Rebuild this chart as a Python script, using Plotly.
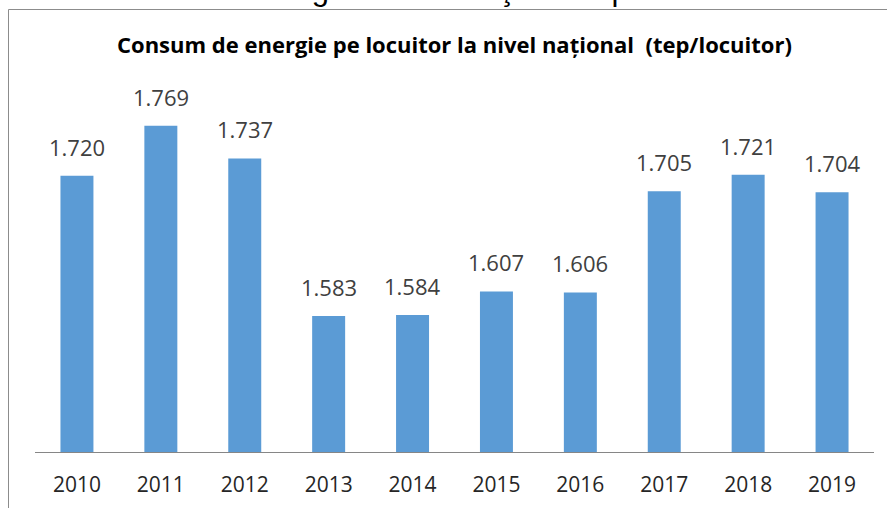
import plotly.graph_objects as go

# Consum de energie pe locuitor (tep/locuitor), 2010-2019
years = ["2010", "2011", "2012", "2013", "2014", "2015", "2016", "2017", "2018", "2019"]
consum = [1.720, 1.769, 1.737, 1.583, 1.584, 1.607, 1.606, 1.705, 1.721, 1.704]

chart_title = "Consum de energie pe locuitor la nivel național  (tep/locuitor)"
caption = "7.6. Consumul de energie la nivel naţional raportat la numărul de locuitori"

W, H = 887, 508


def px(x):
    return x / W


def py(y):
    return 1 - y / H


fig = go.Figure(go.Bar(
    x=years,
    y=consum,
    marker=dict(color="#5B9BD5", line=dict(width=0)),
    hoverinfo="x+y",
))

# data labels above the bars
for i, v in enumerate(consum):
    fig.add_annotation(
        x=i, y=v, xref="x", yref="y",
        text=f"{v:.3f}", showarrow=False,
        yanchor="bottom", yshift=12,
        font=dict(family="Open Sans", size=22, color="#404040"),
    )

# chart title
fig.add_annotation(
    x=px(454), y=py(44), xref="paper", yref="paper",
    text=f"<b>{chart_title}</b>", showarrow=False,
    xanchor="center", yanchor="middle",
    font=dict(family="Open Sans", size=22, color="#000000"),
)

# caption of the page above the chart, cut off by the crop
fig.add_annotation(
    x=px(-4), y=py(9.5), xref="paper", yref="paper",
    text=caption, showarrow=False,
    xanchor="left", yanchor="bottom",
    font=dict(family="Liberation Sans", size=31, color="#000000"),
)

# chart frame (only its top and left edges are inside the crop)
frame = dict(color="#8C8C8C", width=1)
fig.add_shape(type="line", xref="paper", yref="paper",
              x0=px(8.5), x1=px(887), y0=py(9.5), y1=py(9.5), line=frame)
fig.add_shape(type="line", xref="paper", yref="paper",
              x0=px(8.5), x1=px(8.5), y0=py(9.5), y1=py(508), line=frame)

fig.update_layout(
    width=W, height=H,
    margin=dict(l=0, r=0, t=0, b=0),
    paper_bgcolor="white", plot_bgcolor="white",
    bargap=0.607,
    showlegend=False,
    xaxis=dict(
        type="category", automargin=False,
        domain=[px(35), px(874)],
        showline=True, linecolor="#868686", linewidth=1,
        ticks="", ticklabelstandoff=14,
        tickfont=dict(family="Open Sans", size=21, color="#262626"),
        showgrid=False,
    ),
    yaxis=dict(
        domain=[py(452), py(94)],
        range=[1.45, 1.80],
        visible=False, automargin=False,
    ),
)

# drop the default page margin so the figure fills the window exactly
fig.write_html(
    "out.html",
    config={"displayModeBar": False},
    post_script="document.body.style.margin='0';",
)
